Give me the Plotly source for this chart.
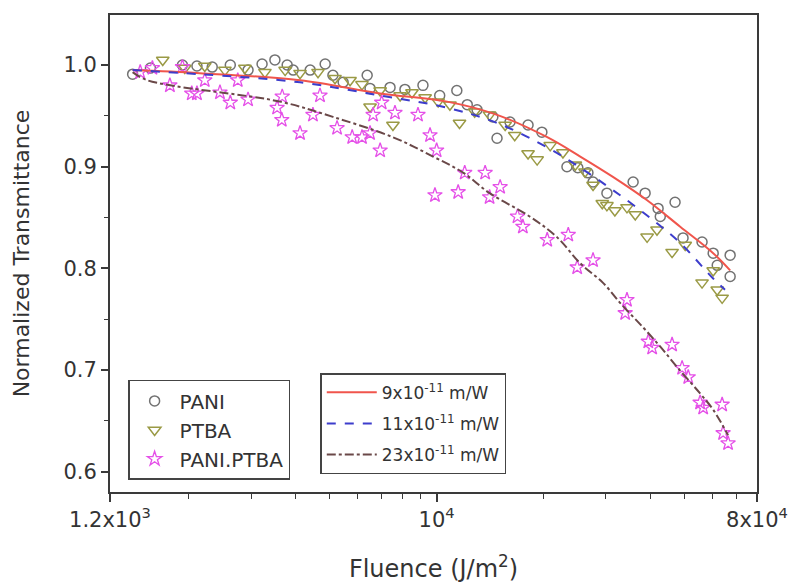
import plotly.graph_objects as go

# ---- measured data: fluence (J/m^2) and normalized transmittance ----
pani_x = [1.39e3, 1.56e3, 1.92e3, 2.11e3, 2.33e3, 2.62e3, 2.94e3, 3.22e3, 3.50e3, 3.79e3,
          3.94e3, 4.40e3, 4.85e3, 5.10e3, 5.45e3, 6.37e3, 6.49e3, 7.39e3, 8.14e3, 9.15e3,
          1.02e4, 1.14e4, 1.22e4, 1.30e4, 1.44e4, 1.48e4, 1.61e4, 1.81e4, 1.98e4, 2.33e4,
          2.50e4, 2.67e4, 2.76e4, 3.02e4, 3.58e4, 3.87e4, 4.21e4, 4.27e4, 4.70e4, 4.95e4,
          5.60e4, 6.02e4, 6.18e4, 6.72e4, 6.72e4]
pani_y = [0.991, 0.997, 1.000, 0.999, 0.998, 1.000, 0.995, 1.001, 1.005, 1.000,
          0.995, 0.995, 1.001, 0.990, 0.983, 0.990, 0.977, 0.978, 0.976, 0.980,
          0.970, 0.975, 0.961, 0.956, 0.949, 0.928, 0.944, 0.941, 0.934, 0.900,
          0.899, 0.894, 0.885, 0.874, 0.885, 0.874, 0.859, 0.851, 0.865, 0.830,
          0.826, 0.815, 0.803, 0.813, 0.792]

ptba_x = [1.69e3, 1.95e3, 2.22e3, 2.53e3, 2.88e3, 3.28e3, 3.74e3, 4.12e3, 4.63e3, 5.17e3,
          5.70e3, 6.16e3, 6.49e3, 6.93e3, 7.53e3, 7.89e3, 8.52e3, 9.28e3, 1.01e4, 1.09e4,
          1.16e4, 1.28e4, 1.41e4, 1.56e4, 1.66e4, 1.81e4, 1.92e4, 2.09e4, 2.27e4, 2.46e4,
          2.62e4, 2.76e4, 2.93e4, 3.02e4, 3.18e4, 3.44e4, 3.63e4, 3.92e4, 4.18e4, 4.61e4,
          5.02e4, 5.60e4, 6.02e4, 6.18e4, 6.38e4]
ptba_y = [1.005, 0.997, 0.999, 0.995, 0.997, 0.993, 0.995, 0.992, 0.993, 0.987,
          0.985, 0.981, 0.959, 0.975, 0.941, 0.970, 0.973, 0.968, 0.964, 0.961,
          0.943, 0.954, 0.951, 0.941, 0.931, 0.913, 0.907, 0.921, 0.914, 0.902,
          0.895, 0.882, 0.864, 0.862, 0.857, 0.860, 0.853, 0.831, 0.838, 0.816,
          0.823, 0.786, 0.798, 0.779, 0.771]

blend_x = [1.46e3, 1.58e3, 1.77e3, 1.92e3, 2.04e3, 2.11e3, 2.22e3, 2.45e3, 2.62e3, 2.75e3,
           2.94e3, 3.55e3, 3.66e3, 3.67e3, 4.12e3, 4.48e3, 4.69e3, 5.24e3, 5.78e3, 6.16e3,
           6.49e3, 6.62e3, 6.93e3, 7.00e3, 7.63e3, 8.86e3, 9.58e3, 9.89e3, 1.00e4, 1.15e4,
           1.20e4, 1.37e4, 1.41e4, 1.51e4, 1.69e4, 1.75e4, 2.05e4, 2.35e4, 2.49e4, 2.76e4,
           3.40e4, 3.44e4, 3.95e4, 4.05e4, 4.61e4, 4.92e4, 5.12e4, 5.53e4, 5.64e4, 6.38e4,
           6.42e4, 6.63e4]
blend_y = [0.993, 0.997, 0.980, 0.998, 0.972, 0.972, 0.985, 0.973, 0.963, 0.985,
           0.966, 0.958, 0.946, 0.969, 0.933, 0.951, 0.970, 0.938, 0.929, 0.929,
           0.933, 0.951, 0.916, 0.963, 0.953, 0.951, 0.931, 0.872, 0.916, 0.875,
           0.894, 0.894, 0.870, 0.880, 0.851, 0.841, 0.828, 0.833, 0.801, 0.808,
           0.756, 0.769, 0.728, 0.722, 0.725, 0.702, 0.693, 0.668, 0.663, 0.666,
           0.638, 0.628]

# ---- fitted nonlinear-absorption curves ----
fit9_x = [1.39e3, 2.15e3, 4.12e3, 6.93e3, 1.07e4, 1.48e4, 2.05e4, 2.54e4, 3.14e4, 3.92e4,
          4.86e4, 6.02e4, 6.72e4]
fit9_y = [0.995, 0.992, 0.985, 0.972, 0.964, 0.951, 0.929, 0.910, 0.890, 0.867,
          0.841, 0.815, 0.798]

fit11_x = [1.39e3, 2.15e3, 4.12e3, 6.93e3, 1.07e4, 1.48e4, 2.05e4, 2.54e4, 3.14e4, 3.92e4,
           4.86e4, 6.02e4, 6.50e4]
fit11_y = [0.995, 0.991, 0.983, 0.970, 0.958, 0.943, 0.919, 0.899, 0.877, 0.852,
           0.825, 0.790, 0.779]

fit23_x = [1.39e3, 1.53e3, 3.62e3, 5.10e3, 7.53e3, 9.77e3, 1.19e4, 1.41e4, 1.83e4, 2.18e4,
           2.54e4, 2.94e4, 3.33e4, 3.82e4, 4.27e4, 4.79e4, 5.53e4, 6.02e4, 6.63e4]
fit23_y = [0.993, 0.985, 0.964, 0.949, 0.929, 0.910, 0.894, 0.874, 0.851, 0.831,
           0.805, 0.786, 0.764, 0.742, 0.723, 0.702, 0.677, 0.661, 0.636]

# ---- axis ticks ----
x_major = [1.2e3, 1e4, 8e4]
x_major_text = ["1.2x10<sup>3</sup>", "10<sup>4</sup>", "8x10<sup>4</sup>"]
x_minor = [2e3, 3e3, 4e3, 5e3, 6e3, 7e3, 8e3, 9e3, 2e4, 3e4, 4e4, 5e4, 6e4, 7e4]

FONT = "DejaVu Sans"
AXIS = "#3a3a3a"
TXT = "#333333"

fig = go.Figure()

fig.add_trace(go.Scatter(
    x=pani_x, y=pani_y, mode="markers", name="PANI", legend="legend", legendgroup="a",
    marker=dict(symbol="circle-open", size=10, color="#727272", line=dict(width=1.5))))
fig.add_trace(go.Scatter(
    x=ptba_x, y=ptba_y, mode="markers", name="PTBA", legend="legend", legendgroup="b",
    marker=dict(symbol="triangle-down-open", size=11, color="#9a9a45", line=dict(width=1.5))))
fig.add_trace(go.Scatter(
    x=blend_x, y=blend_y, mode="markers", name="PANI.PTBA", legend="legend", legendgroup="c",
    marker=dict(symbol="star-open", size=11, color="#e550e8", line=dict(width=1.3))))

fig.add_trace(go.Scatter(
    x=fit9_x, y=fit9_y, mode="lines", name="9x10<sup>-11</sup> m/W",
    legend="legend2", legendgroup="d",
    line=dict(color="#f0554c", width=2, shape="spline")))
fig.add_trace(go.Scatter(
    x=fit11_x, y=fit11_y, mode="lines", name="11x10<sup>-11</sup> m/W",
    legend="legend2", legendgroup="e",
    line=dict(color="#3d3dcc", width=2, dash="dash", shape="spline")))
fig.add_trace(go.Scatter(
    x=fit23_x, y=fit23_y, mode="lines", name="23x10<sup>-11</sup> m/W",
    legend="legend2", legendgroup="f",
    line=dict(color="#6a4848", width=2, dash="dashdot", shape="spline")))

fig.update_layout(
    width=789, height=583,
    margin=dict(l=110, r=32, t=15, b=91),
    paper_bgcolor="white", plot_bgcolor="white",
    font=dict(family=FONT, color=TXT),
    xaxis=dict(
        type="log", range=[3.07918, 4.90309], automargin=False,
        tickmode="array", tickvals=x_major, ticktext=x_major_text,
        ticks="outside", ticklen=8, tickwidth=1.5, tickcolor=AXIS,
        minor=dict(tickmode="array", tickvals=x_minor, ticks="outside",
                   ticklen=5, tickwidth=1.2, tickcolor=AXIS, showgrid=False),
        showline=True, linecolor=AXIS, linewidth=1.8, mirror=True,
        showgrid=False, zeroline=False,
        tickfont=dict(size=21, family=FONT, color=TXT),
        title=dict(text="Fluence (J/m<sup>2</sup>)", font=dict(size=24, family=FONT, color=TXT),
                   standoff=32),
    ),
    yaxis=dict(
        range=[0.5801, 1.0492], automargin=False,
        tickmode="linear", tick0=0.6, dtick=0.1, tickformat=".1f",
        ticks="outside", ticklen=7, tickwidth=1.5, tickcolor=AXIS,
        minor=dict(tickmode="linear", tick0=0.65, dtick=0.1, ticks="outside",
                   ticklen=4, tickwidth=1.2, tickcolor=AXIS, showgrid=False),
        showline=True, linecolor=AXIS, linewidth=1.8, mirror=True,
        showgrid=False, zeroline=False,
        tickfont=dict(size=21, family=FONT, color=TXT),
        title=dict(text="Normalized Transmittance", font=dict(size=22, family=FONT, color=TXT),
                   standoff=28),
    ),
    legend=dict(
        x=0.028, y=0.235, xanchor="left", yanchor="top",
        bgcolor="white", bordercolor="#444444", borderwidth=1.5,
        font=dict(size=20, family=FONT, color=TXT),
        traceorder="grouped", tracegroupgap=0, itemwidth=40,
    ),
    legend2=dict(
        x=0.325, y=0.249, xanchor="left", yanchor="top",
        bgcolor="white", bordercolor="#444444", borderwidth=1.5,
        font=dict(size=17, family=FONT, color=TXT),
        traceorder="grouped", tracegroupgap=6, itemwidth=50,
    ),
)

fig.write_html("out.html")
